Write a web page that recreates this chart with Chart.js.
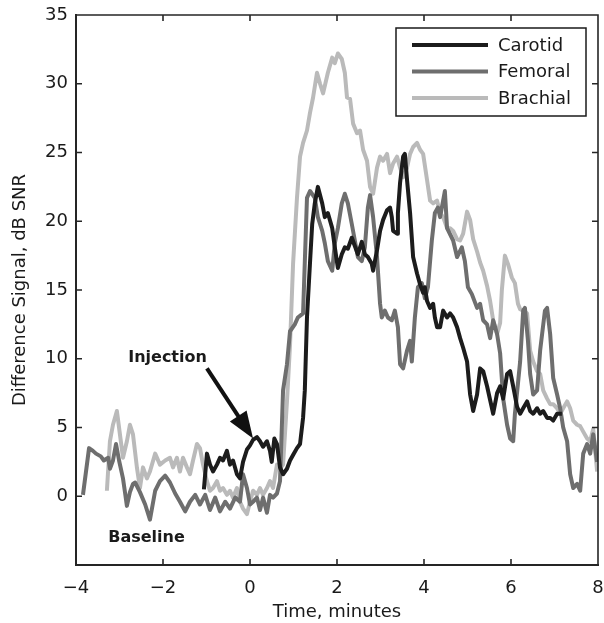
<!DOCTYPE html>
<html>
<head>
<meta charset="utf-8">
<script src="https://cdn.jsdelivr.net/npm/chart.js@4.4.1/dist/chart.umd.min.js"></script>
</head>
<body style="margin:0">
<canvas id="snr-chart" width="604" height="623"></canvas>
<script>
// Difference signal after injection, three arteries

// tick positions
const xTicks = [-4, -2, 0, 2, 4, 6, 8];
const yTicks = [-5, 0, 5, 10, 15, 20, 25, 30, 35];

// Carotid (black)
const carotidTime = [-1.06, -0.99, -0.92, -0.85, -0.76, -0.69, -0.62, -0.53, -0.46, -0.39, -0.30, -0.23, -0.16, -0.07, 0,
    0.07, 0.16, 0.23, 0.30, 0.39, 0.46, 0.50, 0.56, 0.62, 0.69, 0.76, 0.85, 0.92, 0.99, 1.08, 1.15, 1.22, 1.26, 1.31,
    1.38, 1.43, 1.49, 1.56, 1.66, 1.72, 1.79, 1.89, 1.95, 2.02, 2.11, 2.18, 2.25, 2.34, 2.41, 2.48, 2.57, 2.64, 2.71,
    2.80, 2.83, 2.92, 2.99, 3.06, 3.15, 3.22, 3.26, 3.29, 3.38, 3.40, 3.45, 3.52, 3.56, 3.61, 3.68, 3.75, 3.84, 3.91,
    3.98, 4.02, 4.07, 4.14, 4.21, 4.25, 4.30, 4.37, 4.44, 4.53, 4.60, 4.67, 4.76, 4.83, 4.90, 4.99, 5.06, 5.13, 5.22,
    5.29, 5.36, 5.45, 5.52, 5.59, 5.68, 5.75, 5.82, 5.91, 5.98, 6.05, 6.14, 6.21, 6.28, 6.37, 6.44, 6.51, 6.60, 6.67,
    6.74, 6.83, 6.90, 6.97, 7.06, 7.17];
const carotidSNR = [0.5, 3.1, 2.3, 1.8, 2.3, 2.8, 2.6, 3.3, 2.3, 2.6, 1.6, 1.3, 2.5, 3.4, 3.7,
    4.1, 4.3, 4.0, 3.6, 4.0, 3.3, 2.5, 4.2, 3.8, 2.1, 1.6, 2.0, 2.6, 3.0, 3.5, 3.8, 5.7, 7.7, 13.0,
    17.0, 19.8, 21.3, 22.5, 21.3, 20.3, 20.6, 19.5, 18.1, 16.6, 17.6, 18.1, 18.0, 18.8, 18.2, 17.6, 18.5, 17.6, 17.4,
    16.9, 16.4, 17.9, 19.3, 20.1, 20.8, 21.0, 20.3, 19.3, 19.1, 20.6, 22.8, 24.7, 24.9, 23.0, 20.6, 17.4, 16.2, 15.4,
    14.8, 15.2, 14.2, 13.7, 14.0, 13.0, 12.3, 12.3, 13.5, 13.0, 13.3, 13.0, 12.3, 11.5, 10.8, 9.8, 7.4, 6.2, 7.4,
    9.3, 9.1, 8.0, 7.0, 6.0, 7.5, 8.0, 7.1, 8.9, 9.1, 8.0, 6.5, 6.0, 6.4, 6.9, 6.2, 6.0, 6.4, 6.0,
    6.2, 5.7, 5.7, 5.5, 6.0, 6.0];

// Femoral (dark grey)
const femoralTime = [-3.84, -3.70, -3.61, -3.54, -3.43, -3.36, -3.26, -3.22, -3.15, -3.08, -3.01, -2.92, -2.87, -2.83,
    -2.76, -2.69, -2.64, -2.53, -2.41, -2.30, -2.18, -2.07, -1.95, -1.84, -1.72, -1.61, -1.49, -1.38, -1.26, -1.15,
    -1.03, -0.92, -0.80, -0.69, -0.57, -0.46, -0.34, -0.23, -0.16, -0.07, 0, 0.07, 0.16, 0.23, 0.30, 0.39, 0.46, 0.53,
    0.62, 0.69, 0.76, 0.85, 0.92, 1.03, 1.10, 1.22, 1.31, 1.38, 1.49, 1.56, 1.66, 1.72, 1.79, 1.89, 1.95, 2.02, 2.11,
    2.18, 2.25, 2.34, 2.41, 2.48, 2.57, 2.64, 2.71, 2.76, 2.83, 2.92, 2.99, 3.03, 3.10, 3.17, 3.26, 3.33, 3.40, 3.45,
    3.52, 3.61, 3.68, 3.72, 3.79, 3.86, 3.95, 4.02, 4.09, 4.18, 4.25, 4.32, 4.37, 4.48, 4.53, 4.67, 4.76, 4.87, 4.94,
    5.01, 5.10, 5.22, 5.29, 5.36, 5.45, 5.52, 5.59, 5.68, 5.75, 5.82, 5.91, 5.98, 6.05, 6.09, 6.16, 6.21, 6.28, 6.32,
    6.39, 6.44, 6.51, 6.60, 6.67, 6.78, 6.83, 6.90, 6.97, 7.06, 7.13, 7.20, 7.29, 7.36, 7.43, 7.52, 7.59, 7.66, 7.75,
    7.82, 7.89, 7.98];
const femoralSNR = [0.1, 3.5, 3.3, 3.1, 2.9, 2.6, 2.8, 2.0, 2.6, 3.8, 2.6, 1.3, 0.2, -0.7,
    0.3, 0.9, 1.0, 0.3, -0.6, -1.7, 0.4, 1.1, 1.5, 1.0, 0.2, -0.4, -1.1, -0.4, 0.1, -0.6,
    0.1, -1.0, -0.1, -1.1, -0.4, -0.9, -0.1, -0.4, 1.6, 0.6, -0.6, -0.4, -0.1, -1.0, -0.1, -1.2, 0.1, -0.1,
    0.2, 1.1, 7.7, 9.6, 12.0, 12.5, 13.0, 13.3, 21.7, 22.2, 21.7, 20.3, 19.3, 18.4, 17.1, 16.4, 18.4, 19.5, 21.3,
    22.0, 21.3, 19.8, 18.6, 17.4, 17.1, 18.1, 21.0, 21.9, 20.3, 17.4, 14.0, 13.0, 13.5, 13.0, 12.8, 13.5, 12.3, 9.6,
    9.3, 10.6, 11.3, 9.8, 13.0, 15.2, 15.5, 14.4, 15.2, 18.6, 20.6, 21.0, 20.3, 22.2, 19.5, 18.6, 17.4, 18.1, 17.1,
    15.2, 14.7, 13.7, 14.0, 12.8, 12.5, 11.5, 12.8, 11.8, 10.4, 7.1, 5.2, 4.2, 4.0, 6.0, 8.2, 9.8, 13.5, 13.7,
    11.3, 8.9, 7.4, 7.7, 10.6, 13.5, 13.7, 11.8, 8.6, 7.4, 6.4, 5.0, 4.0, 1.6, 0.6, 0.9, 0.4, 3.1, 3.8,
    3.1, 4.5, 2.5];

// Brachial (light grey)
const brachialTime = [-3.29, -3.22, -3.15, -3.06, -2.99, -2.92, -2.83, -2.76, -2.69, -2.60, -2.53, -2.46, -2.37, -2.30,
    -2.18, -2.07, -1.95, -1.84, -1.77, -1.68, -1.61, -1.54, -1.45, -1.38, -1.31, -1.22, -1.15, -1.08, -0.99, -0.92,
    -0.85, -0.76, -0.69, -0.62, -0.53, -0.46, -0.39, -0.30, -0.23, -0.16, -0.07, 0, 0.07, 0.16, 0.23, 0.30, 0.39,
    0.46, 0.53, 0.62, 0.69, 0.76, 0.85, 0.92, 0.99, 1.08, 1.15, 1.22, 1.31, 1.38, 1.45, 1.54, 1.61, 1.68, 1.79, 1.89,
    1.95, 2.02, 2.11, 2.18, 2.23, 2.30, 2.37, 2.46, 2.53, 2.60, 2.69, 2.76, 2.83, 2.92, 2.99, 3.06, 3.15, 3.22, 3.29,
    3.38, 3.45, 3.52, 3.61, 3.68, 3.75, 3.84, 3.91, 3.98, 4.07, 4.14, 4.21, 4.30, 4.37, 4.44, 4.53, 4.60, 4.67, 4.76,
    4.83, 4.90, 4.99, 5.06, 5.13, 5.22, 5.29, 5.36, 5.45, 5.52, 5.59, 5.68, 5.75, 5.79, 5.86, 5.93, 6.02, 6.09, 6.16,
    6.21, 6.28, 6.37, 6.44, 6.51, 6.60, 6.67, 6.74, 6.83, 6.90, 6.97, 7.06, 7.13, 7.20, 7.29, 7.36, 7.43, 7.52, 7.59,
    7.66, 7.75, 7.82, 7.89, 7.98];
const brachialSNR = [0.4, 4.0, 5.2, 6.2, 4.5, 2.8, 4.0, 5.2, 4.5, 2.1, 0.6, 2.1, 1.3, 1.8,
    3.1, 2.3, 2.6, 2.8, 2.1, 2.8, 1.8, 2.8, 2.1, 1.6, 2.6, 3.8, 3.5, 2.3, 1.1, 0.4,
    0.6, 1.1, 0.4, 0.6, 0.1, 0.4, -0.1, 0.6, -0.4, -0.9, -1.3, -0.4, 0.4, 0.1, 0.6, 0.1, 0.6,
    1.1, 0.6, 2.3, 2.0, 2.3, 6.9, 11.0, 16.9, 21.7, 24.7, 25.7, 26.6, 27.9, 29.0, 30.8, 30.0, 29.3, 30.8, 31.9,
    31.5, 32.2, 31.8, 30.8, 29.0, 28.9, 27.1, 26.4, 26.6, 25.2, 24.4, 22.5, 22.0, 23.9, 24.7, 24.4, 24.9, 23.5, 24.2,
    24.7, 23.9, 23.2, 23.9, 24.9, 25.4, 25.7, 25.2, 24.9, 23.0, 21.5, 21.3, 21.5, 20.6, 20.3, 19.5, 19.5, 19.3, 18.7,
    18.6, 19.1, 20.7, 20.1, 18.7, 17.8, 17.0, 16.4, 15.3, 14.2, 12.8, 11.8, 12.6, 15.0, 17.5, 16.9, 15.9, 15.5, 14.0,
    13.6, 13.5, 13.3, 10.6, 9.8, 9.1, 8.9, 7.7, 7.1, 6.7, 6.7, 6.4, 6.0, 6.4, 6.9, 6.4, 5.5, 5.2, 5.1,
    4.7, 4.2, 4.0, 4.9, 1.8];

const toPoints = (t, v) => t.map((x, i) => ({x: x, y: v[i]}));

const fontFamily = "'DejaVu Sans', sans-serif";
const textColor = '#1a1a1a';
const axisColor = '#262626';

// box with inward ticks
function drawBox(chart) {
    const ctx = chart.ctx;
    const xs = chart.scales.x;
    const ys = chart.scales.y;
    const x0 = xs.getPixelForValue(-4), x1 = xs.getPixelForValue(8);
    const y0 = ys.getPixelForValue(35), y1 = ys.getPixelForValue(-5);
    ctx.save();
    ctx.strokeStyle = axisColor;
    ctx.lineWidth = 1.6;
    ctx.beginPath();
    ctx.moveTo(x0, y0); ctx.lineTo(x1, y0); ctx.lineTo(x1, y1); ctx.lineTo(x0, y1); ctx.closePath();
    xTicks.forEach(v => {
        const px = xs.getPixelForValue(v);
        ctx.moveTo(px, y1); ctx.lineTo(px, y1 - 6);
        ctx.moveTo(px, y0); ctx.lineTo(px, y0 + 6);
    });
    yTicks.forEach(v => {
        const py = ys.getPixelForValue(v);
        ctx.moveTo(x0, py); ctx.lineTo(x0 + 6, py);
        ctx.moveTo(x1, py); ctx.lineTo(x1 - 6, py);
    });
    ctx.stroke();
    ctx.restore();
}

// legend, the two notes with the arrow, then the box
const figureExtras = {
    id: 'figureExtras',
    afterDraw(chart) {
        const ctx = chart.ctx;
        const xs = chart.scales.x;
        const ys = chart.scales.y;
        ctx.save();

        const lx = 396, ly = 28, lw = 190, lh = 88;
        ctx.fillStyle = '#fff';
        ctx.fillRect(lx, ly, lw, lh);
        ctx.lineWidth = 1.5;
        ctx.strokeStyle = textColor;
        ctx.strokeRect(lx, ly, lw, lh);
        ctx.font = '18px ' + fontFamily;
        ctx.textBaseline = 'middle';
        ctx.textAlign = 'left';
        chart.data.datasets.forEach((ds, i) => {
            const rowY = ly + 17 + i * 26.5;
            ctx.strokeStyle = ds.borderColor;
            ctx.lineWidth = 4;
            ctx.beginPath();
            ctx.moveTo(lx + 16, rowY);
            ctx.lineTo(lx + 92, rowY);
            ctx.stroke();
            ctx.fillStyle = textColor;
            ctx.fillText(ds.label, lx + 102, rowY + 1);
        });

        const sx = xs.getPixelForValue(-0.99), sy = ys.getPixelForValue(9.3);
        const tx = xs.getPixelForValue(0.07), ty = ys.getPixelForValue(4.2);
        const len = Math.hypot(tx - sx, ty - sy);
        const dx = (tx - sx) / len, dy = (ty - sy) / len;
        const headL = 27, headW = 10;
        const bx = tx - dx * headL, by = ty - dy * headL;
        ctx.strokeStyle = '#111';
        ctx.fillStyle = '#111';
        ctx.lineWidth = 4;
        ctx.beginPath();
        ctx.moveTo(sx, sy);
        ctx.lineTo(bx + dx * 4, by + dy * 4);
        ctx.stroke();
        ctx.beginPath();
        ctx.moveTo(tx, ty);
        ctx.lineTo(bx - dy * headW, by + dx * headW);
        ctx.lineTo(bx + dy * headW, by - dx * headW);
        ctx.closePath();
        ctx.fill();

        ctx.font = 'bold 16px ' + fontFamily;
        ctx.fillStyle = textColor;
        ctx.fillText('Injection', xs.getPixelForValue(-2.8), ys.getPixelForValue(10.1));
        ctx.fillText('Baseline', xs.getPixelForValue(-3.26), ys.getPixelForValue(-3.06));

        ctx.restore();
        drawBox(chart);
    }
};

const snrData = {
    datasets: [{
        label: 'Carotid',
        data: toPoints(carotidTime, carotidSNR),
        borderColor: '#1c1c1c',
    }, {
        label: 'Femoral',
        data: toPoints(femoralTime, femoralSNR),
        borderColor: '#6e6e6e',
    }, {
        label: 'Brachial',
        data: toPoints(brachialTime, brachialSNR),
        borderColor: '#bababa',
    }]
};
snrData.datasets.forEach(ds => {
    ds.borderWidth = 4;
    ds.pointRadius = 0;
    ds.tension = 0;
    ds.fill = false;
    ds.borderJoinStyle = 'round';
});

const tickFont = {family: fontFamily, size: 18};

const snrOptions = {
    responsive: false,
    animation: false,
    layout: {
        padding: {top: 15, right: 6, left: 0, bottom: 0}
    },
    scales: {
        x: {
            type: 'linear',
            min: -4,
            max: 8,
            afterBuildTicks: s => { s.ticks = xTicks.map(v => ({value: v})); },
            afterFit: s => {
                s.height = 58;
                s.paddingLeft = 0;
                s.paddingRight = 0;
            },
            grid: {display: false, drawTicks: false},
            border: {display: true, color: axisColor, width: 2},
            ticks: {
                padding: 13,
                color: textColor,
                font: tickFont,
                maxRotation: 0,
                callback: v => String(v).replace('-', '\u2212')
            },
            title: {
                display: true,
                text: 'Time, minutes',
                color: textColor,
                font: tickFont,
                padding: {top: 0, bottom: 0}
            }
        },
        y: {
            min: -5,
            max: 35,
            afterBuildTicks: s => { s.ticks = yTicks.map(v => ({value: v})); },
            afterFit: s => {
                s.width = 76;
                s.paddingTop = 0;
                s.paddingBottom = 0;
            },
            grid: {display: false, drawTicks: false},
            border: {display: true, color: axisColor, width: 2},
            ticks: {
                padding: 8,
                color: textColor,
                font: tickFont,
                callback: v => (v === -5 ? '' : v)
            },
            title: {
                display: true,
                text: 'Difference Signal, dB SNR',
                color: textColor,
                font: tickFont,
                padding: {top: 10, bottom: 0}
            }
        }
    },
    plugins: {
        legend: {display: false},
        tooltip: {enabled: false}
    }
};

let snrChart = new Chart(document.getElementById('snr-chart'), {
    type: 'line',
    data: snrData,
    options: snrOptions,
    plugins: [figureExtras]
});
</script>
</body>
</html>
